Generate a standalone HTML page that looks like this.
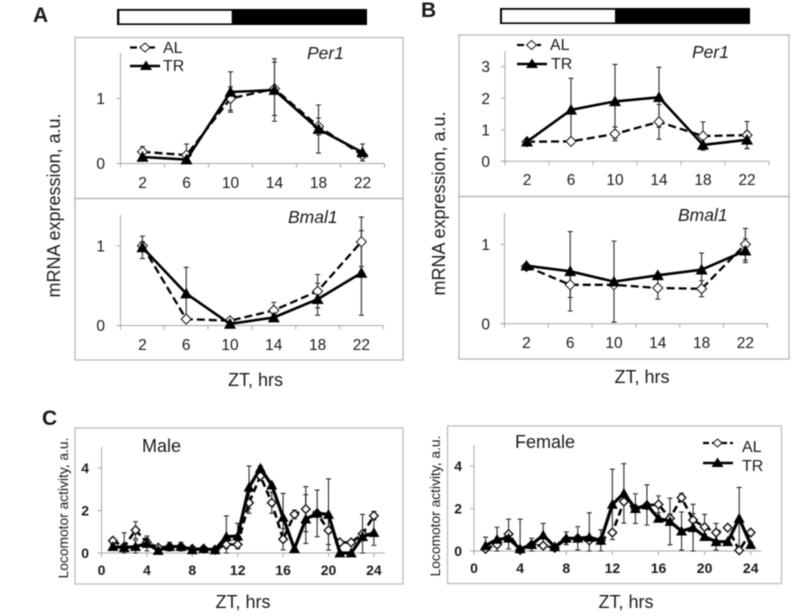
<!DOCTYPE html>
<html>
<head>
<meta charset="utf-8">
<title>mRNA expression and locomotor activity</title>
<style>
html,body{margin:0;padding:0;background:#fff;}
svg{display:block;filter:blur(0.4px);}
text{font-family:"Liberation Sans",sans-serif;fill:#1a1a1a;}
</style>
</head>
<body>
<svg id="fig" xmlns="http://www.w3.org/2000/svg" width="794" height="616" viewBox="0 0 794 616">
  <rect width="794" height="616" fill="#fff"/>

  <text x="33" y="22" font-size="21" font-weight="bold">A</text>
  <text x="421" y="17" font-size="21" font-weight="bold">B</text>
  <text x="42" y="425" font-size="21" font-weight="bold">C</text>

  <g>
    <rect x="117" y="9" width="250" height="16" fill="#000"/>
    <rect x="119.3" y="10.8" width="112.4" height="12.6" fill="#fff"/>
  </g>
  <g>
    <rect x="500" y="8" width="250" height="16" fill="#000"/>
    <rect x="502" y="9.8" width="113" height="12.6" fill="#fff"/>
  </g>

  <rect x="75" y="37.5" width="328" height="161" fill="none" stroke="#b8b8b8" stroke-width="1.3"/>
  <rect x="75" y="198.5" width="328" height="161.5" fill="none" stroke="#b8b8b8" stroke-width="1.3"/>
  <rect x="459" y="35" width="330" height="161.5" fill="none" stroke="#b8b8b8" stroke-width="1.3"/>
  <rect x="459" y="196.5" width="330" height="162.5" fill="none" stroke="#b8b8b8" stroke-width="1.3"/>
  <rect x="75" y="428" width="328" height="156" fill="none" stroke="#bdbdbd" stroke-width="1.3"/>
  <rect x="447.5" y="426" width="334" height="157.5" fill="none" stroke="#bdbdbd" stroke-width="1.3"/>

  <text transform="translate(60,205.5) rotate(-90)" text-anchor="middle" font-size="18">mRNA expression, a.u.</text>
  <text transform="translate(445,203.5) rotate(-90)" text-anchor="middle" font-size="18">mRNA expression, a.u.</text>
  <text transform="translate(68,508) rotate(-90)" text-anchor="middle" font-size="13.8">Locomotor activity, a.u.</text>
  <text transform="translate(440,506) rotate(-90)" text-anchor="middle" font-size="13.8">Locomotor activity, a.u.</text>

  <text x="255.5" y="386" text-anchor="middle" font-size="18">ZT, hrs</text>
  <text x="642" y="383" text-anchor="middle" font-size="18">ZT, hrs</text>
  <text x="243" y="608" text-anchor="middle" font-size="18">ZT, hrs</text>
  <text x="626" y="608" text-anchor="middle" font-size="18">ZT, hrs</text>

  <text x="307" y="59" font-size="17.5" font-style="italic">Per1</text>
  <text x="288" y="223" font-size="17.5" font-style="italic">Bmal1</text>
  <text x="692" y="58" font-size="17.5" font-style="italic">Per1</text>
  <text x="678" y="221" font-size="17.5" font-style="italic">Bmal1</text>
  <text x="142" y="452" font-size="18">Male</text>
  <text x="515" y="448" font-size="18">Female</text>

  <g id="charts"></g>

  <g>
    <line x1="130" y1="47.5" x2="155" y2="47.5" stroke="#000" stroke-width="2.2" stroke-dasharray="7 3"/>
    <path d="M145 43 L150 47.5 L145 52 L140 47.5 Z" fill="#fff" stroke="#111" stroke-width="1"/>
    <text x="163" y="53" font-size="16">AL</text>
    <line x1="130" y1="66" x2="160" y2="66" stroke="#000" stroke-width="2.4"/>
    <path d="M146 60.5 L152 70 L140 70 Z" fill="#000"/>
    <text x="163" y="71" font-size="16">TR</text>
  </g>
  <g>
    <line x1="517" y1="45" x2="541" y2="45" stroke="#000" stroke-width="2.2" stroke-dasharray="7 3"/>
    <path d="M531.500 40.500 L536.500 45 L531.500 49.500 L526.500 45 Z" fill="#fff" stroke="#111" stroke-width="1"/>
    <text x="550" y="50" font-size="16">AL</text>
    <line x1="517" y1="64" x2="547" y2="64" stroke="#000" stroke-width="2.4"/>
    <path d="M532 58.500 L538 68 L526 68 Z" fill="#000"/>
    <text x="551" y="69" font-size="16">TR</text>
  </g>
  <g>
    <line x1="703" y1="443" x2="733" y2="443" stroke="#000" stroke-width="2.2" stroke-dasharray="6 3"/>
    <path d="M717.500 439 L722 443 L717.500 447 L713 443 Z" fill="#fff" stroke="#111" stroke-width="1"/>
    <text x="742" y="452" font-size="16">AL</text>
    <line x1="703" y1="463" x2="733" y2="463" stroke="#000" stroke-width="2.4"/>
    <path d="M717.500 457.500 L723.500 467 L711.500 467 Z" fill="#000"/>
    <text x="742" y="471" font-size="16">TR</text>
  </g>
</svg>
<script>
// Panel A / B x categories (ZT hours)
const ztCategories = [2, 6, 10, 14, 18, 22];
const hourlyCategories = [1,2,3,4,5,6,7,8,9,10,11,12,13,14,15,16,17,18,19,20,21,22,23,24];
const hourlyTicks = [0, 4, 8, 12, 16, 20, 24];

// Panel A, Per1
const aPer1Ticks = [0, 1];
const aPer1AL = [0.18, 0.13, 1.00, 1.15, 0.57, 0.13];
const aPer1ALErr = [0.08, 0.17, 0.18, 0.41, 0.13, 0.05];
const aPer1TR = [0.10, 0.06, 1.10, 1.13, 0.53, 0.17];
const aPer1TRErr = [0.05, 0.05, 0.31, 0.48, 0.37, 0.13];

// Panel A, Bmal1
const aBmalTicks = [0, 1];
const aBmalAL = [1.00, 0.08, 0.06, 0.19, 0.43, 1.05];
const aBmalALErr = [0.05, 0.03, 0.03, 0.10, 0.21, 0.31];
const aBmalTR = [0.98, 0.40, 0.02, 0.10, 0.33, 0.66];
const aBmalTRErr = [0.14, 0.33, 0.02, 0.04, 0.20, 0.53];

// Panel B, Per1
const bPer1Ticks = [0, 1, 2, 3];
const bPer1AL = [0.62, 0.63, 0.87, 1.25, 0.80, 0.83];
const bPer1ALErr = [0.05, 0.10, 0.22, 0.55, 0.45, 0.43];
const bPer1TR = [0.62, 1.63, 1.90, 2.03, 0.52, 0.68];
const bPer1TRErr = [0.05, 1.00, 1.17, 0.95, 0.05, 0.27];

// Panel B, Bmal1
const bBmalTicks = [0, 1];
const bBmalAL = [0.72, 0.49, 0.49, 0.45, 0.44, 1.00];
const bBmalALErr = [0.02, 0.16, 0.02, 0.14, 0.10, 0.20];
const bBmalTR = [0.73, 0.66, 0.53, 0.61, 0.68, 0.92];
const bBmalTRErr = [0.02, 0.50, 0.51, 0.03, 0.21, 0.15];

// Panel C, Male
const maleTicksY = [0, 2, 4];
const maleAL = [0.58,0.30,1.08,0.50,0.25,0.30,0.30,0.20,0.20,0.15,0.40,0.40,2.37,3.63,2.37,0.65,1.82,2.07,1.87,1.07,0.50,0.50,0.90,1.76];
const maleALErr = [0.10,0.10,0.40,0.20,0.05,0.05,0.05,0.05,0.05,0.05,0.20,0.20,0.50,0.20,0.50,0.50,0.20,1.06,1.10,0.67,0.10,0.10,0.10,0.20];
const maleTR = [0.30,0.25,0.30,0.45,0.12,0.30,0.30,0.15,0.20,0.15,0.77,0.80,3.10,4.00,3.20,1.68,0.20,1.60,1.87,1.82,0.00,0.00,0.77,0.96];
const maleTRErr = [0.10,0.70,0.30,0.35,0.05,0.20,0.20,0.10,0.05,0.05,0.98,0.60,1.00,0.10,0.10,1.13,0.10,1.15,0.10,1.68,0.02,0.02,1.05,0.60];

// Panel C, Female
const femaleTicksY = [0, 2, 4];
const femaleAL = [0.10,0.30,0.80,0.05,0.30,0.25,0.15,0.55,0.60,0.50,0.50,0.87,2.33,2.00,2.15,2.20,1.54,2.52,1.46,1.13,0.87,1.10,0.03,0.87];
const femaleALErr = [0.05,0.30,0.70,0.05,0.10,0.10,0.05,0.10,0.10,0.10,0.10,0.10,0.10,0.10,0.10,0.40,0.20,0.20,0.30,0.60,0.43,0.10,0.02,0.10];
const femaleTR = [0.25,0.55,0.60,0.10,0.30,0.75,0.20,0.60,0.60,0.65,0.50,2.20,2.72,2.00,2.17,1.54,1.39,0.94,1.10,0.68,0.44,0.44,1.54,0.30];
const femaleTRErr = [0.40,0.57,0.15,1.40,0.30,0.55,0.10,0.30,0.55,1.15,0.50,1.66,1.40,0.70,0.95,0.10,1.10,0.90,1.10,0.10,0.40,0.05,1.46,0.10];

const NS = 'http://www.w3.org/2000/svg';
const root = document.getElementById('charts');

function node(tag, attrs, parent) {
  const el = document.createElementNS(NS, tag);
  for (const k in attrs) el.setAttribute(k, attrs[k]);
  parent.appendChild(el);
  return el;
}

function drawChart(cfg) {
  const group = node('g', {}, root);
  
  

  const yScale = v => cfg.y0 - v * cfg.yUnit;
  const xScale = cfg.hourly
    ? h => cfg.x0 + h * cfg.xUnit
    : i => cfg.x0 + (i + 0.5) * cfg.xUnit;

  // axes
  const axes = node('g', { stroke: '#a8a8a8', 'stroke-width': 1, fill: 'none' }, group);
  
  
  node('line', { x1: cfg.x0, y1: cfg.yTop, x2: cfg.x0, y2: cfg.y0 }, axes);
  node('line', { x1: cfg.x0 - 4, y1: cfg.y0, x2: cfg.xEnd, y2: cfg.y0 }, axes);

  // y ticks and labels
  cfg.yTicks.forEach(t => {
    const y = yScale(t);
    node('line', { x1: cfg.x0 - 4, y1: y, x2: cfg.x0, y2: y }, axes);
    const label = node('text', {
      x: cfg.yLabelX, y: y + cfg.tickSize * 0.36, 'text-anchor': 'end',
      'font-size': cfg.tickSize, 'font-weight': cfg.hourly ? 'bold' : 'normal'
    }, group);
    label.textContent = t;
    
    
  });

  // x ticks and labels
  if (cfg.hourly) {
    hourlyTicks.forEach(t => {
      const x = xScale(t);
      node('line', { x1: x, y1: cfg.y0, x2: x, y2: cfg.y0 + 4 }, axes);
      const label = node('text', {
        x: x, y: cfg.xLabelY, 'text-anchor': 'middle',
        'font-size': cfg.tickSize, 'font-weight': 'bold'
      }, group);
      label.textContent = t;
      
      
    });
  } else {
    for (let i = 0; i <= ztCategories.length; i++) {
      const x = cfg.x0 + i * cfg.xUnit;
      node('line', { x1: x, y1: cfg.y0, x2: x, y2: cfg.y0 + 4 }, axes);
    }
    ztCategories.forEach((c, i) => {
      const label = node('text', {
        x: xScale(i), y: cfg.xLabelY, 'text-anchor': 'middle', 'font-size': cfg.tickSize
      }, group);
      label.textContent = c;
      
      
    });
  }

  const xAt = i => cfg.hourly ? xScale(hourlyCategories[i]) : xScale(i);
  const toPoints = vals => vals.map((v, i) => xAt(i).toFixed(1) + ',' + yScale(v).toFixed(1)).join(' ');

  // error bars
  const drawErr = (vals, errs, seriesName) => {
    const g = node('g', { stroke: '#2a2a2a', 'stroke-width': 1.1, fill: 'none' }, group);
    
    
    vals.forEach((v, i) => {
      const x = xAt(i);
      const top = yScale(v + errs[i]);
      const bottom = yScale(Math.max(0, v - errs[i]));
      node('path', {
        d: 'M' + x + ' ' + top + 'V' + bottom +
           'M' + (x - 2.5) + ' ' + top + 'H' + (x + 2.5) +
           'M' + (x - 2.5) + ' ' + bottom + 'H' + (x + 2.5)
      }, g);
    });
  };
  drawErr(cfg.al, cfg.alErr, 'al');
  drawErr(cfg.tr, cfg.trErr, 'tr');

  // AL series
  const alLine = node('polyline', {
    points: toPoints(cfg.al), fill: 'none', stroke: '#000',
    'stroke-width': cfg.alWidth, 'stroke-dasharray': cfg.hourly ? '7 4' : '8 4'
  }, group);
  
  

  const d = cfg.diamond;
  cfg.al.forEach((v, i) => {
    const x = xAt(i), y = yScale(v);
    const m = node('path', {
      d: `M${x} ${y - d}L${x + d} ${y}L${x} ${y + d}L${x - d} ${y}Z`,
      fill: '#fff', stroke: '#111', 'stroke-width': cfg.diamondStroke
    }, group);
    
    
  });

  // TR series
  const trLine = node('polyline', {
    points: toPoints(cfg.tr), fill: 'none', stroke: '#000', 'stroke-width': cfg.trWidth,
    'stroke-linejoin': 'round'
  }, group);
  
  

  const t = cfg.tri;
  cfg.tr.forEach((v, i) => {
    const x = xAt(i), y = yScale(v);
    const m = node('path', {
      d: `M${x} ${y - t}L${x + t} ${y + t * 0.8}L${x - t} ${y + t * 0.8}Z`, fill: '#000'
    }, group);
    
    
  });
}

drawChart({ name: 'chart-a-per1', x0: 120.5, xEnd: 384, xUnit: 44, y0: 163.5, yUnit: 65, yTop: 53,
  yTicks: aPer1Ticks, yLabelX: 105, xLabelY: 188, tickSize: 15.5,
  al: aPer1AL, alErr: aPer1ALErr, tr: aPer1TR, trErr: aPer1TRErr,
  alWidth: 2.3, trWidth: 2.6, diamond: 5, diamondStroke: 1, tri: 6 });

drawChart({ name: 'chart-a-bmal1', x0: 120.5, xEnd: 383.5, xUnit: 43.8, y0: 325.5, yUnit: 79.7, yTop: 215,
  yTicks: aBmalTicks, yLabelX: 105, xLabelY: 350, tickSize: 15.5,
  al: aBmalAL, alErr: aBmalALErr, tr: aBmalTR, trErr: aBmalTRErr,
  alWidth: 2.3, trWidth: 2.6, diamond: 5, diamondStroke: 1, tri: 6 });

drawChart({ name: 'chart-b-per1', x0: 505, xEnd: 768.5, xUnit: 44, y0: 161.3, yUnit: 31.55, yTop: 51,
  yTicks: bPer1Ticks, yLabelX: 490, xLabelY: 185, tickSize: 15.5,
  al: bPer1AL, alErr: bPer1ALErr, tr: bPer1TR, trErr: bPer1TRErr,
  alWidth: 2.3, trWidth: 2.6, diamond: 5, diamondStroke: 1, tri: 6 });

drawChart({ name: 'chart-b-bmal1', x0: 504.5, xEnd: 767.5, xUnit: 43.8, y0: 323.7, yUnit: 79.4, yTop: 213,
  yTicks: bBmalTicks, yLabelX: 490, xLabelY: 348, tickSize: 15.5,
  al: bBmalAL, alErr: bBmalALErr, tr: bBmalTR, trErr: bBmalTRErr,
  alWidth: 2.3, trWidth: 2.6, diamond: 5, diamondStroke: 1, tri: 6 });

drawChart({ name: 'chart-c-male', hourly: true, x0: 101.5, xEnd: 385, xUnit: 11.35, y0: 553, yUnit: 21.2, yTop: 447,
  yTicks: maleTicksY, yLabelX: 89, xLabelY: 575, tickSize: 14,
  al: maleAL, alErr: maleALErr, tr: maleTR, trErr: maleTRErr,
  alWidth: 2.6, trWidth: 3.2, diamond: 4.3, diamondStroke: 1.4, tri: 5.5 });

drawChart({ name: 'chart-c-female', hourly: true, x0: 474, xEnd: 761.5, xUnit: 11.53, y0: 551, yUnit: 21.2, yTop: 445,
  yTicks: femaleTicksY, yLabelX: 462, xLabelY: 573, tickSize: 14,
  al: femaleAL, alErr: femaleALErr, tr: femaleTR, trErr: femaleTRErr,
  alWidth: 2.6, trWidth: 3.2, diamond: 4.3, diamondStroke: 1.4, tri: 5.5 });
</script>
</body>
</html>
